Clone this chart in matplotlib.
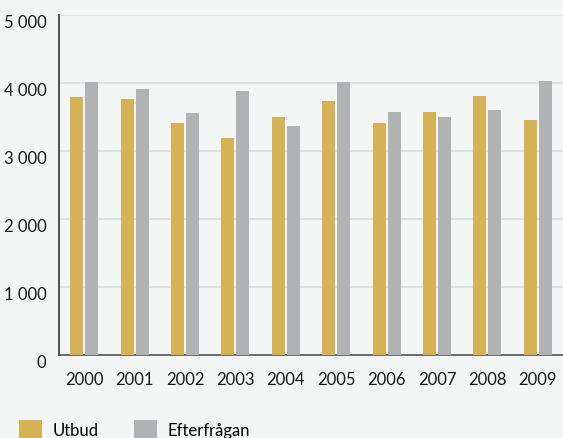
import matplotlib
matplotlib.use("Agg")
import matplotlib.pyplot as plt
import numpy as np
from matplotlib.ticker import FuncFormatter

years = ["2000", "2001", "2002", "2003", "2004", "2005", "2006", "2007", "2008", "2009"]
utbud = [3790, 3760, 3410, 3190, 3500, 3735, 3410, 3575, 3810, 3455]
efterfragan = [4015, 3910, 3560, 3885, 3365, 4015, 3575, 3500, 3600, 4030]
yticks = [0, 1000, 2000, 3000, 4000, 5000]
series_names = ["Utbud", "Efterfrågan"]

plt.rcParams['font.family'] = ['Lato', 'DejaVu Sans']

bg = "#F4F6F5"
c_u = "#D6B256"
c_e = "#B1B2B3"

fig = plt.figure(figsize=(5.63, 4.38), dpi=100, facecolor=bg)
ax = fig.add_axes([59/563, 1-355/438, 1-59/563, (355-15)/438])
ax.set_facecolor(bg)

x = np.arange(len(years))
w = 0.258
off = 0.149
b1 = ax.bar(x - off, utbud, w, color=c_u, zorder=3, label=series_names[0])
b2 = ax.bar(x + off, efterfragan, w, color=c_e, zorder=3, label=series_names[1])

ax.set_xlim(-0.5, 9.5)
ax.set_ylim(0, 5000)
ax.set_yticks(yticks)
ax.yaxis.set_major_formatter(FuncFormatter(lambda v, p: f"{int(v):,}".replace(",", " ")))
ax.set_xticks(x)
ax.set_xticklabels(years)
ax.grid(axis='y', color="#DCDDDD", linewidth=1.2, zorder=0)
ax.tick_params(axis='both', length=0, labelsize=12, colors="#1a1a1a")
ax.tick_params(axis='x', pad=12)
ax.tick_params(axis='y', pad=9)
for lab in ax.get_yticklabels():
    lab.set_verticalalignment('top')
for s in ['top', 'right']:
    ax.spines[s].set_visible(False)
ax.spines['left'].set_color("#333333")
ax.spines['left'].set_linewidth(1.2)
ax.spines['bottom'].set_color("#555555")
ax.spines['bottom'].set_linewidth(1.2)

fig.legend(handles=[b1, b2], labels=series_names, loc='lower left',
           bbox_to_anchor=(0.007, -0.038), ncol=2, frameon=False,
           handlelength=1.4, handleheight=1.4, handletextpad=0.6,
           columnspacing=2.15, fontsize=12)

fig.savefig("out.png", dpi=100, facecolor=bg)
